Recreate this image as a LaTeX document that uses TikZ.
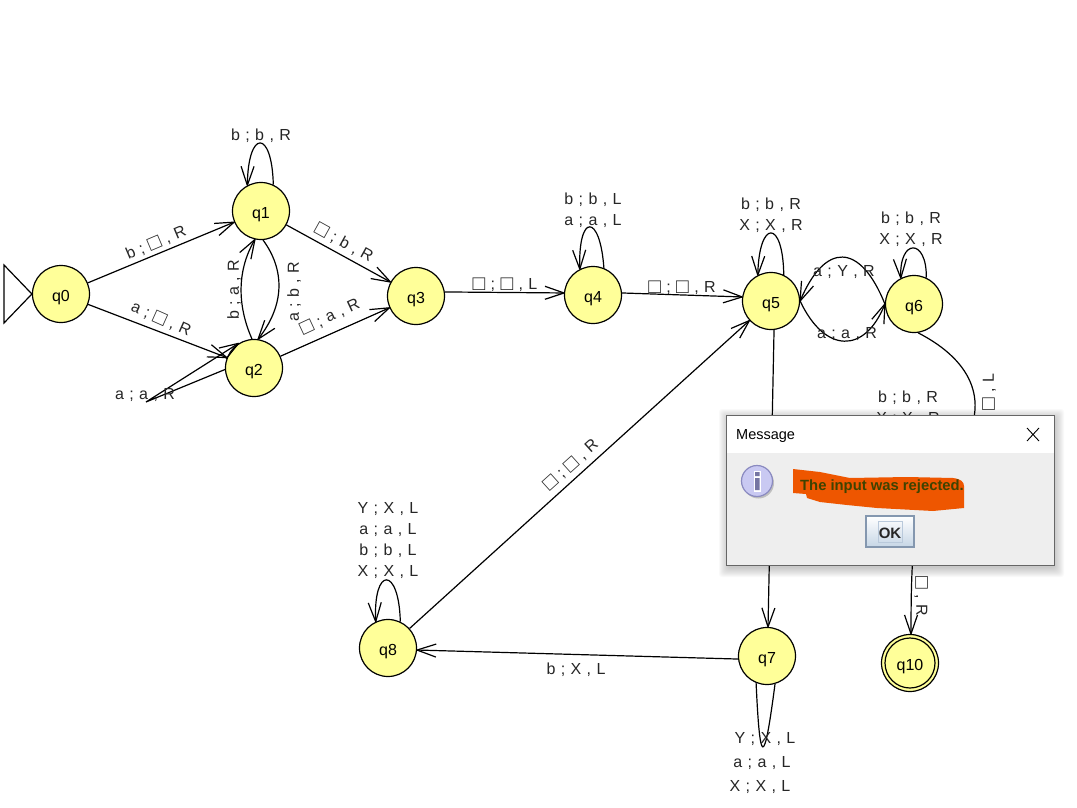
\documentclass[tikz,border=0pt]{standalone}
\usepackage{fontspec}
\setmainfont{Liberation Sans}
\usetikzlibrary{arrows.meta}

\definecolor{etat}{HTML}{FFFF99}
\definecolor{orangeblob}{HTML}{EE5600}
\definecolor{fondmsg}{HTML}{EEEEEE}
\definecolor{iconfill}{HTML}{C9C9F2}
\definecolor{iconedge}{HTML}{8A8AC0}
\definecolor{bordbouton}{HTML}{8497AF}
\definecolor{basbouton}{HTML}{C6D6E6}
\definecolor{texterejet}{HTML}{3F4300}

\newcommand{\blanc}{\raisebox{-1pt}{\fontsize{21}{21}\selectfont □}}
\newcommand{\policelbl}{\fontsize{16}{16}\selectfont\setlength{\spaceskip}{5.4pt}}

\pgfdeclarearrow{
    name=Pointe,
    setup code={\pgfarrowssettipend{0pt}\pgfarrowssetbackend{-19pt}\pgfarrowssetlineend{-0.5pt}\pgfarrowssetvisualbackend{-1pt}},
    drawing code={
        \pgfsetroundjoin
        \pgfpathmoveto{\pgfqpoint{-19pt}{6.5pt}}
        \pgfpathlineto{\pgfpointorigin}
        \pgfpathlineto{\pgfqpoint{-19pt}{-6.5pt}}
        \pgfusepathqstroke
    }
}

\tikzset{
    >={Pointe},
    etatq/.style={circle,draw,line width=1.2pt,fill=etat,minimum size=57pt,inner sep=0pt,font=\fontsize{16}{16}\selectfont},
    lbl/.style={inner sep=0pt,yshift=-2pt,font=\policelbl,text=black!85},
    trans/.style={->,line width=1.2pt}
}

\begin{document}
\begin{tikzpicture}[x=1pt,y=-1pt]
    \useasboundingbox (0,0) rectangle (1077,808);

    % Etats
    \foreach \nom/\x/\y in {q0/61/294,q1/261/211,q2/254/368,q3/416/296,q4/593/295,q5/771/301,q6/914/304,q7/767/656,q8/388/648,q10/910/663} {
        \node[etatq] (\nom) at (\x,\y) {\raisebox{-7pt}[0pt][0pt]{\nom}};
    }
    \node[circle,draw,line width=1.2pt,minimum size=50pt] (q10in) at (q10) {};

    % Etat initial
    \draw[line width=1.2pt] (q0.west) -- (4,265) -- (4,323) -- cycle;

    % Transitions
    \draw[trans] (q0) -- (q1);
    \draw[trans] (q0) -- (q2);
    \draw[trans] (q1) -- (q3);
    \draw[trans] (q2) -- (q3);
    \draw[trans] (q3.8) -- (q4.176);
    \draw[trans] (q4.4) -- (q5.172);
    \draw[trans] (q5.-84) -- (q7.88);
    \draw[trans] (q7.186) -- (q8.-4);
    \draw[trans] (q8) -- (q5);
    \draw[trans] (q1.-86) .. controls (285,270) and (285,305) .. (q2.82);
    \draw[trans] (q2.94) .. controls (237,305) and (237,270) .. (q1.-102);
    \draw[trans] (q5.0) .. controls (825,354) and (865,354) .. (q6.180);
    \draw[trans] (q6.180) .. controls (860,242) and (825,242) .. (q5.0);
    \draw[trans] (q6.-82) .. controls (975,362) and (990,405) .. (960,450) .. controls (915,480) and (911,530) .. (q10.88);

    % Boucles
    \draw[trans] (q1.65) .. controls (272,129) and (248,129) .. (q1.118);
    \draw[trans] (q4.68) .. controls (600,213) and (578,213) .. (q4.117);
    \draw[trans] (q5.64) .. controls (783,219) and (759,219) .. (q5.117);
    \draw[trans] (q6.65) .. controls (927,238) and (899,238) .. (q6.117);
    \draw[trans] (q8.65) .. controls (399,566) and (373,566) .. (q8.115);
    \draw[trans] (q2.183) -- (146,402) -- (q2.122);
    \draw[line width=1.2pt] (q7.-112) .. controls (760,768) and (764,768) .. (q7.-74);

    % Etiquettes
    \node[lbl,rotate=23] (l01) at (156,241) {b ; \blanc{} , R};
    \node[lbl,rotate=-24] (l02) at (161,317) {a ; \blanc{} , R};
    \node[lbl] (l11) at (261,134) {b ; b , R};
    \node[lbl,rotate=90] (l21) at (234,288) {b ; a , R};
    \node[lbl,rotate=90] (l12) at (294,290) {a ; b , R};
    \node[lbl] (l22) at (145,393) {a ; a , R};
    \node[lbl,rotate=-29] (l13) at (344,241) {\blanc{} ; b , R};
    \node[lbl,rotate=25] (l23) at (330,315) {\blanc{} ; a , R};
    \node[lbl] (l34) at (505,283) {\blanc{} ; \blanc{} , L};
    \node[lbl] (l44a) at (593,198) {b ; b , L};
    \node[lbl] (l44b) at (593,219) {a ; a , L};
    \node[lbl] (l45) at (682,286) {\blanc{} ; \blanc{} , R};
    \node[lbl] (l55a) at (771,203) {b ; b , R};
    \node[lbl] (l55b) at (771,224) {X ; X , R};
    \node[lbl] (l56) at (844,270) {a ; Y , R};
    \node[lbl] (l65) at (847,332) {a ; a , R};
    \node[lbl] (l66a) at (911,217) {b ; b , R};
    \node[lbl] (l66b) at (911,238) {X ; X , R};
    \node[lbl] (l99a) at (908,396) {b ; b , R};
    \node[lbl] (l99b) at (908,417) {X ; X , R};
    \node[lbl,rotate=90] (l610a) at (989,390) {\blanc{} , L};
    \node[lbl,rotate=-90] (l610b) at (921,594) {\blanc{} , R};
    \node[lbl,rotate=42] (l85) at (571,463) {\blanc{} ; \blanc{} , R};
    \node[lbl] (l78) at (576,668) {b ; X , L};
    \node[lbl] (l88a) at (388,507) {Y ; X , L};
    \node[lbl] (l88b) at (388,528) {a ; a , L};
    \node[lbl] (l88c) at (388,549) {b ; b , L};
    \node[lbl] (l88d) at (388,570) {X ; X , L};
    \node[lbl] (l77a) at (765,737) {Y ; X , L};
    \node[lbl] (l77b) at (762,761) {a ; a , L};
    \node[lbl] (l77c) at (760,785) {X ; X , L};

    % Message
    \foreach \i in {1,...,10} {
        \fill[black,opacity=0.022,rounded corners=3pt] (726-\i+3,415-\i+4) rectangle (1054+\i,565+\i+2);
    }
    \fill[fondmsg] (726,415) rectangle (1054,565);
    \fill[white] (726,415) rectangle (1054,453);
    \draw[black!60,line width=1pt] (726,415) rectangle (1054,565);
    \node[anchor=west,inner sep=0pt,font=\fontsize{14.5}{15}\selectfont] (titre) at (736,436) {Message};
    \draw[line width=0.9pt] (1027,428) -- (1039,441) (1027,441) -- (1039,428);

    % Icone
    \fill[black!25] (758.5,483) circle (15.5);
    \node[circle,draw=iconedge,line width=1.2pt,fill=iconfill,minimum size=31pt,inner sep=0pt] (icone) at (757,481) {};
    \fill[white] (753.5,471) rectangle (760.5,492);
    \fill[iconedge!85!black] (755,472) rectangle (759.5,476) (755,478) rectangle (759.5,490);

    % Texte rature
    \fill[orangeblob] (793,469) -- (820,472) -- (850,478) -- (907,477) -- (953,478) .. controls (961,479) and (964,482) .. (964,486) -- (964,508) -- (933,511) -- (877,508) -- (847,505) -- (820,502) -- (807,498) -- (806,494) -- (793,493) -- cycle;
    \node[inner sep=0pt,font=\bfseries\fontsize{14.8}{15}\selectfont,text=texterejet] (rejet) at (882,487) {The input was rejected.};

    % Bouton
    \shade[top color=white,bottom color=basbouton] (866,516) rectangle (914,547);
    \draw[bordbouton,line width=1.5pt] (866,516) rectangle (914,547);
    \draw[basbouton!80!bordbouton,line width=0.6pt] (878,521) rectangle (902,542);
    \node[inner sep=0pt,font=\bfseries\fontsize{15}{15}\selectfont,text=black!85] (ok) at (890,533.5) {OK};
\end{tikzpicture}
\end{document}
